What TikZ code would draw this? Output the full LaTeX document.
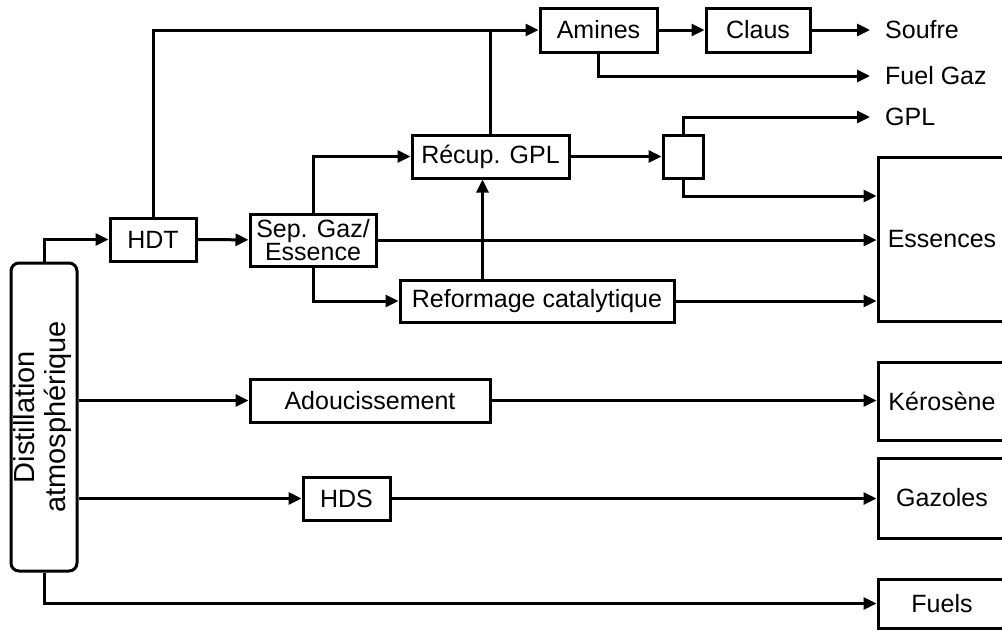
\documentclass[tikz,border=0pt]{standalone}
\usepackage{fontspec}
\setmainfont{Liberation Sans}
\usetikzlibrary{arrows.meta}

\begin{document}
\begin{tikzpicture}[
    x=1pt, y=-1pt,
    box/.style={rectangle, draw, line width=3pt, inner sep=2pt,
                font=\fontsize{25}{23}\selectfont, align=center},
    prod/.style={box, minimum width=128pt},
    outlabel/.style={anchor=west, inner xsep=15pt, inner ysep=0pt, font=\fontsize{25}{23}\selectfont},
    arrow/.style={-{Triangle[length=13pt,width=12pt]}, line width=3pt},
    line/.style={line width=3pt}
]
    \useasboundingbox (0,0) rectangle (1002,630);

    \node[box, rounded corners=8pt, minimum width=66pt, minimum height=308pt,
          font=\fontsize{29}{31}\selectfont] (dist) at (44,417)
        {\rotatebox{90}{\begin{tabular}{@{}c@{}}Distillation\\atmosphérique\end{tabular}}};

    \node[box, minimum width=86pt, minimum height=43pt] (hdt) at (153,239.5) {HDT};
    \node[box, minimum width=126pt, minimum height=52pt, inner sep=0pt] (sep) at (313,240) {Sep. Gaz/\\Essence};
    \node[box, minimum width=117pt, minimum height=44pt] (amines) at (598.5,30) {Amines};
    \node[box, minimum width=104pt, minimum height=44pt] (claus) at (758,30) {Claus};
    \node[box, minimum width=157pt, minimum height=43pt] (recup) at (490.5,156.5) {Récup. GPL};
    \node[box, minimum width=40pt, minimum height=43pt] (split) at (683,156.5) {};
    \node[box, minimum width=274pt, minimum height=42pt] (reform) at (537,301) {Reformage catalytique};
    \node[box, minimum width=240pt, minimum height=43pt] (adouc) at (370,400.5) {Adoucissement};
    \node[box, minimum width=87pt, minimum height=43pt] (hds) at (346.5,498.5) {HDS};

    % produits
    \node[prod, minimum height=164pt] (ess) at (942,239) {Essences};
    \node[prod, minimum height=78pt] (kero) at (942,401) {Kérosène};
    \node[prod, minimum height=80pt] (gaz) at (942,498) {Gazoles};
    \node[prod, minimum height=49pt] (fuels) at (942,603.5) {Fuels};

    \node[outlabel] (soufre) at (870,30) {Soufre};
    \node[outlabel] (fuelgaz) at (870,76) {Fuel Gaz};
    \node[outlabel] (gpl) at (870,117) {GPL};

    % flux
    \draw[arrow] (dist.north) |- (hdt.west);
    \draw[arrow] (hdt) -- (sep);
    \draw[arrow] (hdt.north) |- (amines.west);
    \draw[line] (recup.north) -- (recup.north |- amines.west);
    \draw[arrow] (amines) -- (claus);
    \draw[arrow] (claus) -- (soufre);
    \draw[arrow] (amines.south) |- (fuelgaz.west);
    \draw[arrow] (sep.north) |- (recup.west);
    \draw[arrow] (sep.south) |- (reform.west);
    \draw[arrow] (sep.east) -- (sep.east -| ess.west);
    \draw[arrow] ([xshift=-8pt]recup.south |- reform.north) -- ([xshift=-8pt]recup.south);
    \draw[arrow] (recup) -- (split);
    \draw[arrow] (split.north) |- (gpl.west);
    \draw[arrow] (split.south) |- ([yshift=43pt]ess.west);
    \draw[arrow] (reform.east) -- (reform.east -| ess.west);
    \draw[arrow] (dist.east |- adouc.west) -- (adouc.west);
    \draw[arrow] (adouc.east) -- (adouc.east -| kero.west);
    \draw[arrow] (dist.east |- hds.west) -- (hds.west);
    \draw[arrow] (hds.east) -- (hds.east -| gaz.west);
    \draw[arrow] (dist.south) |- (fuels.west);
\end{tikzpicture}
\end{document}
